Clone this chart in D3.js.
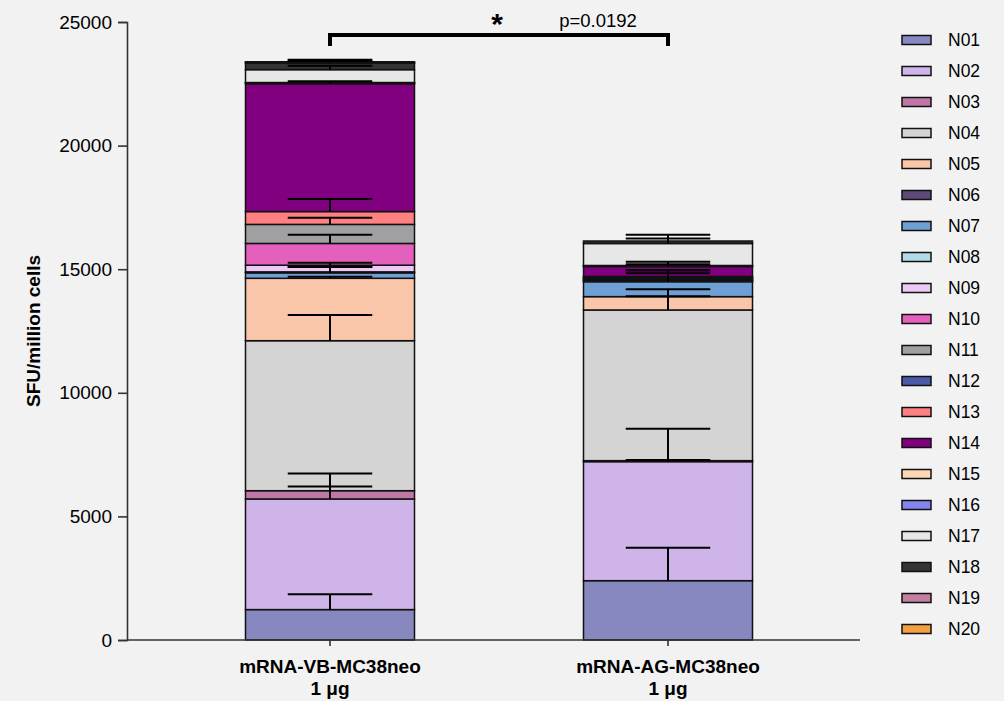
<!DOCTYPE html>
<html>
<head>
<meta charset="utf-8">
<script src="https://cdn.jsdelivr.net/npm/d3@7/dist/d3.min.js"></script>
<style>
  html, body { margin: 0; padding: 0; background: #f2f2f2; }
  svg { display: block; }
  text { font-family: Arial, "Liberation Sans", sans-serif; fill: #000; }
</style>
</head>
<body>
<svg id="chart" width="1004" height="701"></svg>
<script>
// Groups on the x axis (two label lines each)
const groups = ["mRNA-VB-MC38neo", "mRNA-AG-MC38neo"];
const doseLabel = "1 μg";

// Peptide series, stacked bottom to top
const series = ["N01","N02","N03","N04","N05","N06","N07","N08","N09","N10",
                "N11","N12","N13","N14","N15","N16","N17","N18","N19","N20"];
const colors = ["#8788bf","#cfb4ea","#c077a8","#d4d4d4","#fac6aa","#5e4a78","#6fa0d5","#b0dbe8",
                "#ecc9f5","#e460bd","#a0a0a3","#4a5aa6","#ff8080","#800080","#fdd8b5","#8585f2",
                "#e7e7e7","#333333","#c47fa0","#f5a03f"];

// Mean SFU per million cells and error (upper) for each series
const vbMeans = [1230, 4475, 335, 6068, 2524, 0, 220, 40, 270, 880,
                 770, 0, 520, 5170, 30, 20, 520, 270, 20, 30];
const vbErrs  = [620, 500, 700, 1040, 65, 0, 250, 200, 100, 350,
                 270, 0, 510, 100, 0, 0, 160, 130, 60, 50];
const agMeans = [2400, 4815, 40, 6095, 540, 0, 605, 20, 40, 30,
                 40, 40, 40, 405, 20, 20, 890, 100, 0, 0];
const agErrs  = [1335, 1335, 30, 840, 20, 0, 340, 0, 0, 0,
                 340, 280, 0, 90, 175, 0, 200, 255, 0, 0];

const yTicks = [0, 5000, 10000, 15000, 20000, 25000];
const yTitle = "SFU/million cells";
const sigStar = "*";
const sigText = "p=0.0192";
const sigLevel = 24470;

const svg = d3.select("#chart");

const y = d3.scaleLinear().domain([0, 25000]).range([640, 22]);
const x = d3.scaleBand().domain(groups).range([161, 837])
  .paddingInner(0.5).paddingOuter(0.25);

const groupValues = [
  { name: groups[0], means: vbMeans, errs: vbErrs },
  { name: groups[1], means: agMeans, errs: agErrs }
];

// Build stacked segments per group
const segs = [];
groupValues.forEach(g => {
  let base = 0;
  series.forEach((s, i) => {
    const v = g.means[i];
    segs.push({ group: g.name, series: s, i, y0: base, y1: base + v, err: g.errs[i] });
    base += v;
  });
});

const plot = svg.append("g");

// Stacked rectangles
plot.selectAll("rect.seg")
  .data(segs.filter(d => d.y1 > d.y0))
  .join("rect")
  .attr("class", "seg")
  .attr("x", d => x(d.group))
  .attr("width", x.bandwidth())
  .attr("y", d => y(d.y1))
  .attr("height", d => y(d.y0) - y(d.y1))
  .attr("fill", d => colors[d.i])
  .attr("stroke", "#111")
  .attr("stroke-width", 1.5);

// Error bars on top of each segment
const capHalf = x.bandwidth() / 4;
const errSegs = segs.filter(d => d.err > 0 && d.y1 > d.y0);
const eb = plot.selectAll("g.err").data(errSegs).join("g").attr("class", "err");
eb.append("line")
  .attr("x1", d => x(d.group) + x.bandwidth() / 2)
  .attr("x2", d => x(d.group) + x.bandwidth() / 2)
  .attr("y1", d => y(d.y1))
  .attr("y2", d => y(d.y1 + d.err))
  .attr("stroke", "#000").attr("stroke-width", 2);
eb.append("line")
  .attr("x1", d => x(d.group) + x.bandwidth() / 2 - capHalf)
  .attr("x2", d => x(d.group) + x.bandwidth() / 2 + capHalf)
  .attr("y1", d => y(d.y1 + d.err))
  .attr("y2", d => y(d.y1 + d.err))
  .attr("stroke", "#000").attr("stroke-width", 2);

// Y axis
const yAxis = svg.append("g")
  .attr("transform", "translate(127,0)")
  .call(d3.axisLeft(y).tickValues(yTicks).tickFormat(d3.format("d")).tickSize(9).tickPadding(6));
yAxis.select(".domain").attr("stroke", "#333").attr("stroke-width", 1.6);
yAxis.selectAll(".tick line").attr("stroke", "#333").attr("stroke-width", 1.6);
yAxis.selectAll(".tick text")
  .style("font-family", "Arial, 'Liberation Sans', sans-serif")
  .style("font-size", "19px").attr("fill", "#000");

// X axis
svg.append("line")
  .attr("x1", 127).attr("x2", 860).attr("y1", y(0)).attr("y2", y(0))
  .attr("stroke", "#333").attr("stroke-width", 1.6);
const xAxis = svg.append("g")
  .attr("transform", `translate(0,${y(0)})`)
  .call(d3.axisBottom(x).tickSize(6).tickFormat(""));
xAxis.select(".domain").remove();
xAxis.selectAll(".tick line").attr("stroke", "#333").attr("stroke-width", 1.6);
xAxis.selectAll(".tick").each(function(d) {
  const t = d3.select(this).append("text")
    .attr("text-anchor", "middle")
    .style("font-size", "19px").style("font-weight", "bold")
    .attr("fill", "#000");
  t.append("tspan").attr("x", 0).attr("y", 33).text(d);
  t.append("tspan").attr("x", 0).attr("y", 55).text(doseLabel);
});

// Y axis title
svg.append("text")
  .attr("transform", `translate(40,${(y(0) + y(25000)) / 2}) rotate(-90)`)
  .attr("text-anchor", "middle")
  .style("font-size", "19px").style("font-weight", "bold")
  .text(yTitle);

// Significance bracket
const bx1 = x(groups[0]) + x.bandwidth() / 2;
const bx2 = x(groups[1]) + x.bandwidth() / 2;
const by = y(sigLevel);
svg.append("path")
  .attr("d", `M${bx1},${by + 11}V${by}H${bx2}V${by + 11}`)
  .attr("fill", "none").attr("stroke", "#000").attr("stroke-width", 4)
  .attr("stroke-linejoin", "miter");
svg.append("text")
  .attr("x", 497).attr("y", by - 1)
  .attr("text-anchor", "middle")
  .style("font-size", "30px").style("font-weight", "bold")
  .text(sigStar);
svg.append("text")
  .attr("x", 598).attr("y", by - 8)
  .attr("text-anchor", "middle")
  .style("font-size", "18.5px")
  .text(sigText);

// Legend
const legend = svg.append("g").attr("transform", "translate(902,40)");
const li = legend.selectAll("g").data(series).join("g")
  .attr("transform", (d, i) => `translate(0,${i * 31})`);
li.append("rect")
  .attr("x", 0).attr("y", -4.5).attr("width", 29).attr("height", 9)
  .attr("fill", (d, i) => colors[i])
  .attr("stroke", "#111").attr("stroke-width", 1.5);
li.append("text")
  .attr("x", 46).attr("y", 0).attr("dy", "0.36em")
  .style("font-size", "17.5px")
  .text(d => d);
</script>
</body>
</html>
